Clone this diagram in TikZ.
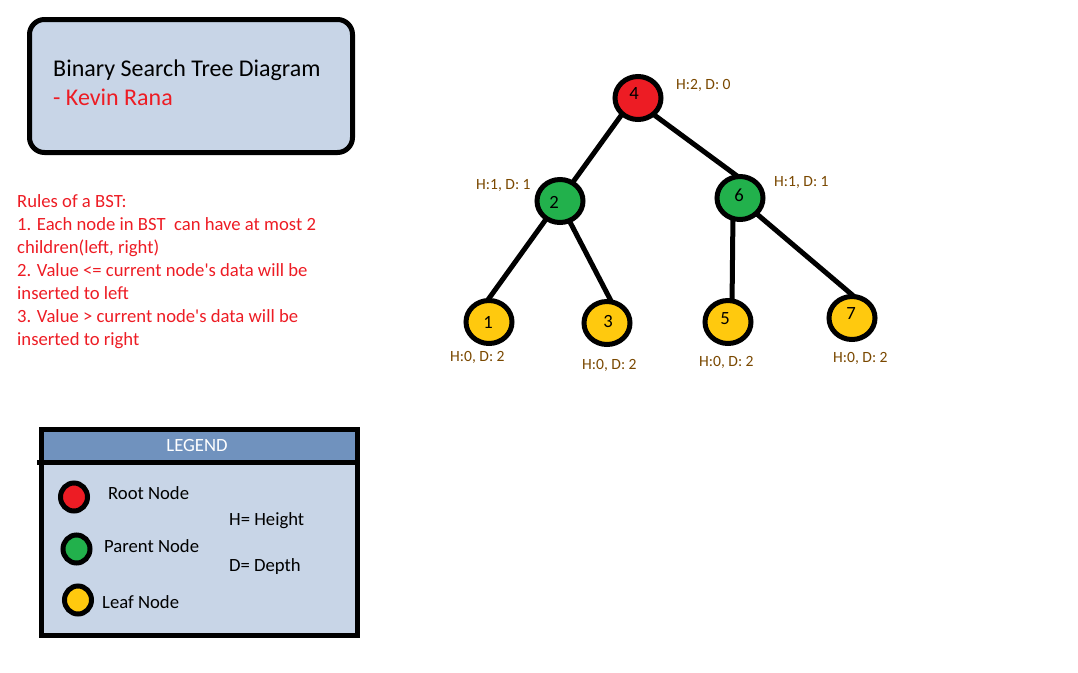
\documentclass[tikz,border=0pt]{standalone}
\usepackage{fontspec}
\setmainfont{Carlito}
\usetikzlibrary{shapes.geometric}
\pgfdeclarelayer{background}
\pgfsetlayers{background,main}
\definecolor{bstred}{HTML}{ED1C24}
\definecolor{bstgreen}{HTML}{22B14C}
\definecolor{bstyellow}{HTML}{FFC90E}
\definecolor{boxfill}{HTML}{C8D5E7}
\definecolor{headfill}{HTML}{7092BE}
\definecolor{lblbrown}{HTML}{7A4800}
\tikzset{
  txt/.style={inner sep=0pt, anchor=base west},
  big/.style={font=\fontsize{18.67}{23}\selectfont},
  small/.style={font=\fontsize{15.6}{18}\selectfont, text=lblbrown},
  num/.style={inner sep=0pt, anchor=base, font=\fontsize{18.67}{23}\selectfont},
  tnode/.style={ellipse, draw=black, line width=5pt, minimum width=46pt, minimum height=43pt, inner sep=0pt},
  lnode/.style={ellipse, draw=black, line width=5pt, minimum width=27pt, minimum height=28pt, inner sep=0pt},
  edge/.style={line width=5pt, black},
}
\begin{document}
\begin{tikzpicture}[x=1pt,y=-1pt]
\useasboundingbox (0,0) rectangle (1078,672);
% title box
\draw[line width=5pt, fill=boxfill, rounded corners=15pt] (29.5,19.5) rectangle (352.5,152.5);
\node[txt, font=\fontsize{24}{28}\selectfont] (title) at (53,76) {Binary Search Tree Diagram};
\node[txt, font=\fontsize{24}{28}\selectfont, text=bstred] (author) at (53,105) {- Kevin Rana};
% rules
\begin{scope}[every node/.style={txt, big, text=bstred}]
\node (r0) at (17,207) {Rules of a BST:};
\node (r1) at (17,230) {1. Each node in BST\ \ can have at most 2};
\node (r2) at (17,253) {children(left, right)};
\node (r3) at (17,276) {2. Value <= current node\textquotesingle s data will be};
\node (r4) at (17,299) {inserted to left};
\node (r5) at (17,322) {3. Value > current node\textquotesingle s data will be};
\node (r6) at (17,345) {inserted to right};
\end{scope}
% tree nodes
\node[tnode, fill=bstred] (n4) at (638,98) {};
\node[tnode, fill=bstgreen] (n2) at (560,201) {};
\node[tnode, fill=bstgreen] (n6) at (740,198) {};
\node[tnode, fill=bstyellow] (n1) at (489,322) {};
\node[tnode, fill=bstyellow] (n3) at (607,323) {};
\node[tnode, fill=bstyellow] (n5) at (728,322) {};
\node[tnode, fill=bstyellow] (n7) at (852,318) {};
% edges
\begin{pgfonlayer}{background}
\draw[edge] ([shift={(-13.3,12.5)}]n4.center) -- ([shift={(8.3,-12.5)}]n2.center);
\draw[edge] ([shift={(12.6,14.3)}]n4.center) -- ([shift={(-0.6,-20.3)}]n6.center);
\draw[edge] ([shift={(-11.3,14.5)}]n2.center) -- ([shift={(-3.7,-18.5)}]n1.center);
\draw[edge] ([shift={(6.3,13.9)}]n2.center) -- ([shift={(6.7,-16.9)}]n3.center);
\draw[edge] ([shift={(-7,14)}]n6.center) -- ([shift={(4,-16)}]n5.center);
\draw[edge] ([shift={(11.9,11.8)}]n6.center) -- ([shift={(4.1,-19.8)}]n7.center);
\end{pgfonlayer}
% numbers
\node[num] (t4) at (634,99) {4};
\node[num] (t2) at (554,208) {2};
\node[num] (t6) at (739,201) {6};
\node[num] (t1) at (488,328) {1};
\node[num] (t3) at (608,327) {3};
\node[num] (t5) at (725,324) {5};
\node[num] (t7) at (851,319) {7};
% labels
\node[txt, small] (h4) at (676,89) {H:2, D: 0};
\node[txt, small] (h2) at (476,189) {H:1, D: 1};
\node[txt, small] (h6) at (774,186) {H:1, D: 1};
\node[txt, small] (h1) at (450,361) {H:0, D: 2};
\node[txt, small] (h3) at (582,369) {H:0, D: 2};
\node[txt, small] (h5) at (699,366) {H:0, D: 2};
\node[txt, small] (h7) at (833,362) {H:0, D: 2};
% legend
\fill[boxfill] (41.5,429.5) rectangle (357.5,635.5);
\fill[headfill] (41.5,429.5) rectangle (357.5,462);
\draw[line width=5pt] (41.5,429.5) rectangle (357.5,635.5);
\draw[line width=5pt] (37,462) -- (357.5,462);
\node[inner sep=0pt, anchor=base, big, text=white] (leg) at (197,451) {LEGEND};
\node[lnode, fill=bstred] (lr) at (74,497) {};
\node[lnode, fill=bstgreen] (lg) at (76.5,549) {};
\node[lnode, fill=bstyellow] (ly) at (78,600) {};
\node[txt, big] (lrt) at (108,499) {Root Node};
\node[txt, big] (lgt) at (104,552) {Parent Node};
\node[txt, big] (lyt) at (102,608) {Leaf Node};
\node[txt, big] (hh) at (229,525) {H= Height};
\node[txt, big] (dd) at (229,571) {D= Depth};
\end{tikzpicture}
\end{document}
